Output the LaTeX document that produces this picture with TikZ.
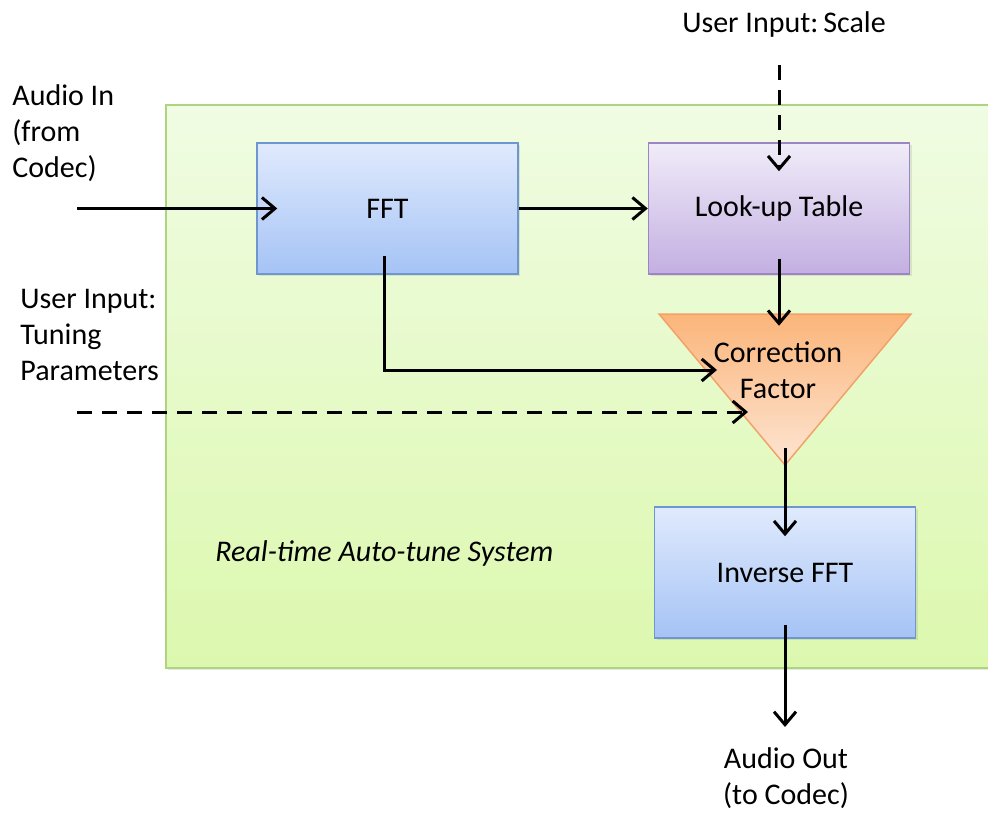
\documentclass[tikz,border=0pt]{standalone}
\usepackage{fontspec}
\setmainfont{Carlito}
\usetikzlibrary{arrows.meta,shadows}

% block colours
\definecolor{sysTop}{HTML}{F0FCE3}
\definecolor{sysBot}{HTML}{DCF8AE}
\definecolor{sysEdge}{HTML}{AED47F}
\definecolor{fftTop}{HTML}{E0EAFD}
\definecolor{fftBot}{HTML}{A5C3F5}
\definecolor{fftEdge}{HTML}{6F97CF}
\definecolor{lutTop}{HTML}{F0ECF9}
\definecolor{lutBot}{HTML}{C3AFE1}
\definecolor{lutEdge}{HTML}{9D85C5}
\definecolor{triTop}{HTML}{FBB57A}
\definecolor{triBot}{HTML}{FDE5D3}
\definecolor{triEdge}{HTML}{F2A266}

\tikzset{
  softshadow/.style={drop shadow={shadow xshift=1.2pt, shadow yshift=-1.2pt, opacity=.18}},
  blk/.style={draw, line width=.75pt, minimum width=130.5pt, minimum height=65.5pt, softshadow},
  fftblk/.style={blk, draw=fftEdge, top color=fftTop, bottom color=fftBot},
  lutblk/.style={blk, draw=lutEdge, top color=lutTop, bottom color=lutBot},
  lbl/.style={inner sep=0pt, align=left},
  sig/.style={line width=1.5pt, -{Straight Barb[length=6.5pt,width=11pt]}},
  usr/.style={sig, dash pattern=on 7.5pt off 5pt},
}

\begin{document}
\begin{tikzpicture}[x=0.5pt, y=-0.5pt, font=\fontsize{15}{18}\selectfont]
	\clip (0,0) rectangle (988,812);

	% system frame
	\shade[draw=sysEdge, line width=.75pt, top color=sysTop, bottom color=sysBot, softshadow]
		(166,105) rectangle (1000,668);
	\node[lbl, anchor=north west] (sys) at (215,540) {\itshape Real-time Auto-tune System};

	% processing blocks
	\node (fft) [fftblk] at (387.5,208.5) {FFT};
	\node (lut) [lutblk] at (779,208.5) {Look-up Table};
	\node (ifft) [fftblk] at (785,572.5) {Inverse FFT};

	% correction triangle
	\coordinate (tl) at (659,314);
	\coordinate (tr) at (911,314);
	\coordinate (tip) at (785,465);
	\shade[draw=triEdge, line width=.75pt, top color=triTop, bottom color=triBot] (tl) -- (tr) -- (tip) -- cycle;
	\node (cf) [align=center, inner sep=0pt] at (778,370) {Correction\\Factor};

	% outside labels
	\node (ainlbl) [lbl, anchor=north west] at (12,84) {Audio In\\(from\\Codec)};
	\node (tunelbl) [lbl, anchor=north west] at (20,289) {User Input:\\Tuning\\Parameters};
	\node (scalelbl) [lbl, anchor=north] at (784,11) {User Input:\,Scale};
	\node (aoutlbl) [lbl, align=center, anchor=north] at (786,747) {Audio Out\\(to Codec)};

	% free ends
	\coordinate (src) at (77,208.5);
	\coordinate (scalein) at (779,65);
	\coordinate (tunein) at (77,412);
	\coordinate (fbin) at (717,370);
	\coordinate (tunetip) at (748,412);
	\coordinate (sink) at (785,727);

	\draw[sig] (src) -- ([xshift=10.5pt]fft.west);
	\draw[sig] (fft.east) -- (lut.west);
	\draw[usr] (scalein) -- ([yshift=-14.5pt]lut.north);
	\draw[sig] ([yshift=8pt]lut.south) -- ++(0,67);
	\draw[sig] ([shift={(-1.75pt,9.5pt)}]fft.south) |- (fbin);
	\draw[usr] (tunein) -- (tunetip);
	\draw[sig] ([yshift=8.5pt]tip) -- ([yshift=-15pt]ifft.north);
	\draw[sig] ([yshift=7pt]ifft.south) -- (sink);
\end{tikzpicture}
\end{document}
